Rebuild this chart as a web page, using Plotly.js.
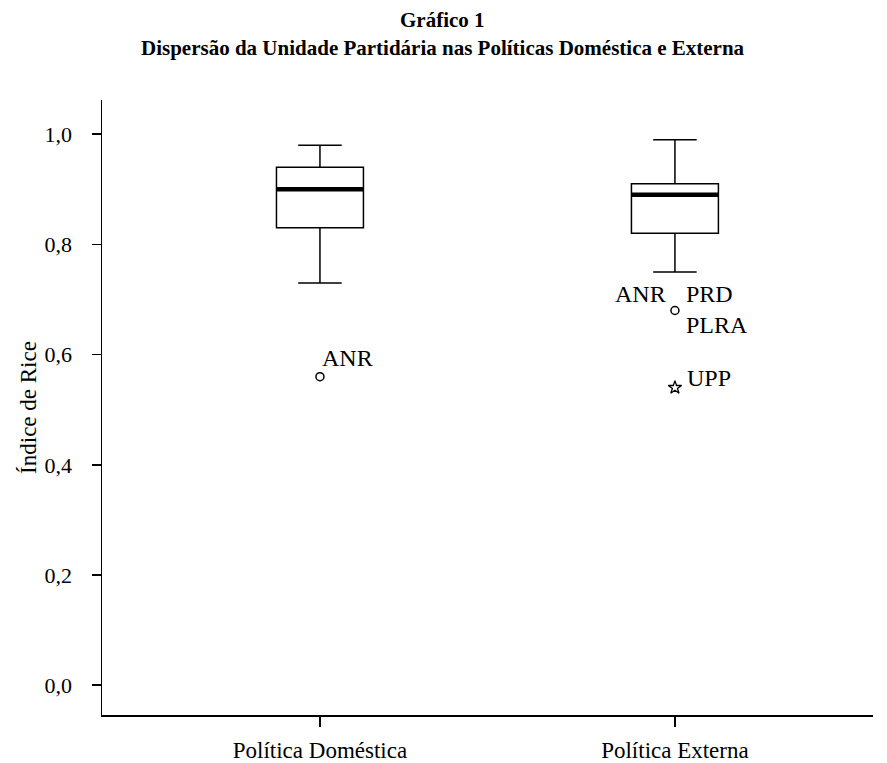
<!DOCTYPE html>
<html>
<head>
<meta charset="utf-8">
<script src="https://cdn.plot.ly/plotly-3.0.1.min.js"></script>
<style>html,body{margin:0;padding:0;background:#fff;}#chart{width:887px;height:763px;}</style>
</head>
<body>
<div id="chart"></div>
<script>
// Categories and box statistics (Índice de Rice)
const categories = ["Política Doméstica", "Política Externa"];
const catPos = [0, 1];
const lowerWhisker = [0.73, 0.75];
const q1Values = [0.83, 0.82];
const medianValues = [0.90, 0.89];
const q3Values = [0.94, 0.91];
const upperWhisker = [0.98, 0.99];

// Outliers (circle) and extremes (star)
const outlierCat = [0, 1];
const outlierValues = [0.56, 0.68];
const extremeCat = [1];
const extremeValues = [0.54];

// Labels of outlier parties
const labelCat = [0, 1, 1, 1, 1];
const labelValues = [0.56, 0.68, 0.68, 0.68, 0.54];
const labelTexts = ["ANR", "ANR", "PRD", "PLRA", "UPP"];

const yTicks = [0, 0.2, 0.4, 0.6, 0.8, 1.0];

const titleLines = ["Gráfico 1", "Dispersão da Unidade Partidária nas Políticas Doméstica e Externa"];

// label placement (style only): [xanchor, xshift px, yshift px]
const labelPlacement = [["left", 0, 19], ["right", -7, 17], ["left", 9, 17], ["left", 9, -14], ["left", 10, 10]];

const boxW = 0.245;
const serif = "Liberation Serif, Times New Roman, serif";

const traces = [];
traces.push({
  type: "box",
  x: catPos,
  q1: q1Values,
  median: medianValues,
  q3: q3Values,
  lowerfence: lowerWhisker,
  upperfence: upperWhisker,
  width: boxW,
  whiskerwidth: 0.5,
  fillcolor: "#ffffff",
  line: {color: "#000000", width: 1.5},
  boxpoints: false,
  hoverinfo: "skip",
  showlegend: false
});
catPos.forEach((c, i) => {
  traces.push({
    type: "scatter", mode: "lines",
    x: [c - boxW / 2, c + boxW / 2],
    y: [medianValues[i], medianValues[i]],
    line: {color: "#000000", width: 4.5},
    showlegend: false, hoverinfo: "skip"
  });
});
traces.push({
  type: "scatter", mode: "markers",
  x: outlierCat, y: outlierValues,
  marker: {symbol: "circle-open", size: 8, color: "#000000", line: {width: 1.5}},
  showlegend: false, hoverinfo: "skip"
});
traces.push({
  type: "scatter", mode: "markers",
  x: extremeCat, y: extremeValues,
  marker: {symbol: "star-open", size: 10, color: "#000000", line: {width: 1.3}},
  showlegend: false, hoverinfo: "skip"
});

const annotations = labelTexts.map((t, i) => {
  const p = labelPlacement[i];
  return {
    x: labelCat[i], y: labelValues[i], xref: "x", yref: "y",
    text: t, showarrow: false,
    xanchor: p[0], yanchor: "middle",
    xshift: p[1], yshift: p[2],
    font: {family: serif, size: 24, color: "#000"}
  };
});
annotations.push({
  xref: "paper", yref: "paper", x: 0.442, y: 1.130, xanchor: "center", yanchor: "middle",
  text: "<b>" + titleLines[0] + "</b>", showarrow: false,
  font: {family: serif, size: 21, color: "#000"}
});
annotations.push({
  xref: "paper", yref: "paper", x: 0.442, y: 1.0846, xanchor: "center", yanchor: "middle",
  text: "<b>" + titleLines[1] + "</b>", showarrow: false,
  font: {family: serif, size: 21, color: "#000"}
});

const layout = {
  width: 887, height: 763,
  margin: {l: 102, r: 14, t: 100, b: 48},
  paper_bgcolor: "#ffffff", plot_bgcolor: "#ffffff",
  separators: ",.",
  font: {family: serif, size: 22, color: "#000"},
  xaxis: {
    range: [-0.614, 1.558],
    tickvals: catPos, ticktext: categories,
    ticks: "outside", ticklen: 10, tickwidth: 1.5, tickcolor: "#000",
    showline: true, linecolor: "#000", linewidth: 1.5,
    showgrid: false, zeroline: false,
    tickfont: {family: serif, size: 23},
    ticklabelstandoff: 4
  },
  yaxis: {
    range: [-0.054, 1.062],
    tickvals: yTicks, tickformat: ".1f",
    ticks: "outside", ticklen: 9, tickwidth: 1.5, tickcolor: "#000",
    showline: true, linecolor: "#000", linewidth: 1.5,
    showgrid: false, zeroline: false,
    tickfont: {family: serif, size: 22},
    ticklabelstandoff: 15,
    title: {text: "Índice de Rice", font: {family: serif, size: 23}, standoff: 1}
  },
  annotations: annotations
};

Plotly.newPlot("chart", traces, layout, {staticPlot: true, displayModeBar: false});
</script>
</body>
</html>
